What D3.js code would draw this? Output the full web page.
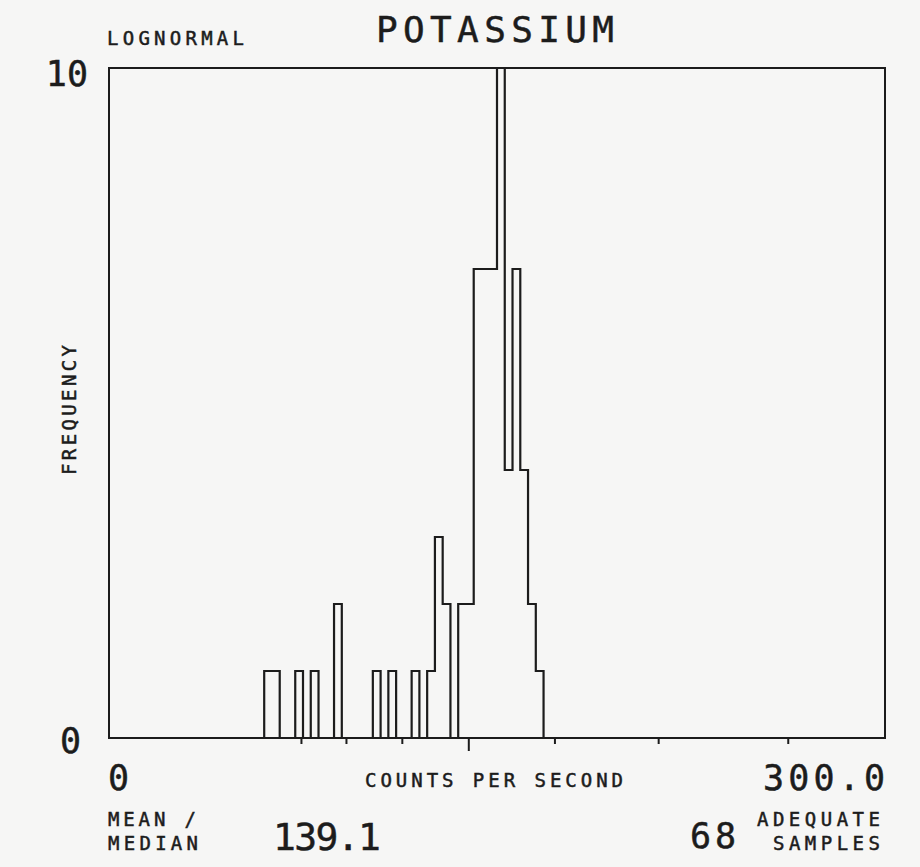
<!DOCTYPE html>
<html>
<head>
<meta charset="utf-8">
<script src="https://cdn.jsdelivr.net/npm/d3@7"></script>
<style>
  html, body { margin: 0; padding: 0; background: #f6f6f5; }
  svg { display: block; }
  text { font-family: "DejaVu Sans Mono", monospace; fill: #1c1c1c; stroke: #1c1c1c; stroke-width: 0.5; }
</style>
</head>
<body>
<svg id="chart" width="920" height="867"></svg>
<script>
// ---- data ----
const binWidth = 3;                 // counts per second per bin
const binStarts = [60, 63, 72, 78, 87, 102, 108, 117, 123, 126, 129, 135, 138, 141, 144, 147, 150, 153, 156, 159, 162, 165];
const binCounts = [ 1,  1,  1,  1,  2,   1,   1,   1,   1,   3,   2,   2,   2,   7,   7,   7,  10,   4,   7,   4,   2,   1];
const xDomain = [0, 300];
const yDomain = [0, 10];
const xTickValues = [74.4, 91.8, 113.4, 139.1, 172.4, 212.5, 262.6]; // mean and +/- 1,2,3 log-sigma
const meanValue = 139.1;
const sampleCount = 68;
const titleText = "POTASSIUM";
const distText = "LOGNORMAL";
const xLabel = "COUNTS PER SECOND";
const yLabel = "FREQUENCY";

// ---- layout ----
const svg = d3.select("#chart");
const ink = "#1c1c1c";
const x = d3.scaleLinear().domain(xDomain).range([109, 885]);
const y = d3.scaleLinear().domain(yDomain).range([738, 68]);

// frame
svg.append("rect")
  .attr("x", x(xDomain[0])).attr("y", y(yDomain[1]))
  .attr("width", x(xDomain[1]) - x(xDomain[0]))
  .attr("height", y(yDomain[0]) - y(yDomain[1]))
  .attr("fill", "none").attr("stroke", ink).attr("stroke-width", 2);

// x ticks (downward, mean tick longer)
svg.append("g").selectAll("line").data(xTickValues).join("line")
  .attr("x1", d => x(d)).attr("x2", d => x(d))
  .attr("y1", y(0)).attr("y2", d => y(0) + (d === meanValue ? 13 : 6))
  .attr("stroke", ink).attr("stroke-width", 2);

// histogram step outline
const nBins = Math.round((xDomain[1] - xDomain[0]) / binWidth);
const counts = new Array(nBins).fill(0);
binStarts.forEach((s, i) => { counts[Math.round(s / binWidth)] = binCounts[i]; });
const first = Math.round(d3.min(binStarts) / binWidth);
const last = Math.round(d3.max(binStarts) / binWidth);
const pts = [[first * binWidth, 0]];
for (let k = first; k <= last; k++) {
  pts.push([k * binWidth, counts[k]]);
  pts.push([(k + 1) * binWidth, counts[k]]);
}
pts.push([(last + 1) * binWidth, 0]);
svg.append("path")
  .attr("d", d3.line().x(d => x(d[0])).y(d => y(d[1]))(pts))
  .attr("fill", "none").attr("stroke", ink).attr("stroke-width", 2.2)
  .attr("stroke-linejoin", "miter");

// ---- texts ----
function txt(str, xx, yy, size, len, anchor) {
  const t = svg.append("text")
    .attr("x", xx).attr("y", yy)
    .attr("font-size", size)
    .attr("text-anchor", anchor || "start")
    .text(str);
  if (len) t.attr("textLength", len).attr("lengthAdjust", "spacing");
  return t;
}
txt(distText, 107, 45, 19, 137);
txt(titleText, 376, 42, 36, 238);
txt(String(yDomain[1]), 88, 86, 35, null, "end");
txt(String(yDomain[0]), 81, 753, 35, null, "end");
svg.append("text")
  .attr("transform", "translate(76,410) rotate(-90)")
  .attr("font-size", 19)
  .attr("text-anchor", "middle")
  .attr("textLength", 130).attr("lengthAdjust", "spacing")
  .text(yLabel);
txt(String(xDomain[0]), 108, 790, 35);
txt(xLabel, 365, 787, 19, 258);
txt(xDomain[1].toFixed(1), 885, 790, 35, 122, "end");
txt("MEAN /", 108, 826, 19, 88);
txt("MEDIAN", 108, 850, 19, 90);
txt(meanValue.toFixed(1), 273, 850, 38, 108);
txt(String(sampleCount), 736, 848, 35, 46, "end");
txt("ADEQUATE", 880, 826, 19, 123, "end");
txt("SAMPLES", 880, 850, 19, 107, "end");
</script>
</body>
</html>
